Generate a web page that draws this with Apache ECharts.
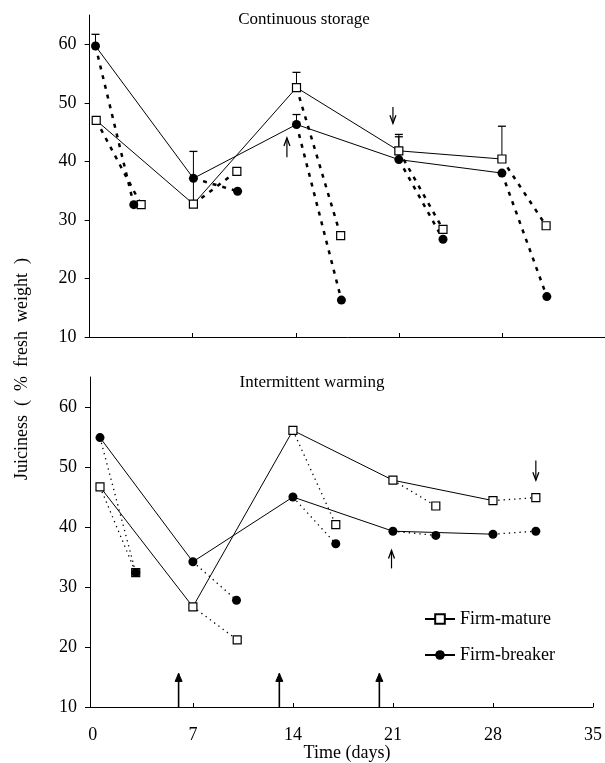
<!DOCTYPE html>
<html><head><meta charset="utf-8">
<script src="https://cdn.jsdelivr.net/npm/echarts@6/dist/echarts.min.js"></script>
<style>html,body{margin:0;padding:0;background:#fff}#c{width:605px;height:763px}</style>
</head><body><div id="c"></div>
<script>
const FONT = 'Liberation Serif';
const yTicks = [10, 20, 30, 40, 50, 60];
const xTicks = [0, 7, 14, 21, 28, 35];
const xInnerTicks = [7, 14, 21, 28, 35];
const titles = ['Continuous storage', 'Intermittent warming'];
const yName = 'Juiciness  (  %  fresh  weight  )';
const xName = 'Time (days)';
const seriesNames = ['Firm-mature', 'Firm-breaker'];

// Continuous storage
const topMature = [[0.45, 47.0], [7.05, 32.7], [14.05, 52.6], [21.0, 41.8], [28.0, 40.4]];
const topBreaker = [[0.4, 59.7], [7.05, 37.1], [14.05, 46.3], [21.0, 40.3], [28.0, 38.0]];
const topMatureEnd = [[3.5, 32.6], [10.0, 38.3], [17.05, 27.3], [24.0, 28.4], [31.0, 29.0]];
const topBreakerEnd = [[3.0, 32.6], [10.05, 34.9], [17.1, 16.3], [24.0, 26.7], [31.05, 16.9]];
const topErrors = [[0.4, 59.7, 61.7], [7.05, 32.7, 41.7], [14.05, 52.6, 55.2], [14.05, 46.3, 48.0],
                   [21.0, 41.8, 44.6], [21.0, 40.3, 44.2], [28.0, 40.4, 46.0]];
const topArrows = [[13.4, 40.7, 44.0], [20.6, 49.3, 46.5]];

// Intermittent warming
const botMature = [[0.5, 46.7], [7.0, 26.7], [14.0, 56.1], [21.0, 47.8], [28.0, 44.4]];
const botBreaker = [[0.5, 54.9], [7.0, 34.2], [14.0, 45.0], [21.0, 39.3], [28.0, 38.8]];
const botMatureEnd = [[3.0, 32.4], [10.1, 21.2], [17.0, 40.4], [24.0, 43.5], [31.0, 44.9]];
const botBreakerEnd = [[3.0, 32.4], [10.05, 27.8], [17.0, 37.2], [24.0, 38.6], [31.0, 39.3]];
const botWarmArrows = [[6.0, 10, 15.6], [13.05, 10, 15.6], [20.05, 10, 15.6]];
const botOpenArrows = [[20.9, 33.1, 36.1], [31.0, 51.1, 47.8]];

function segs(main, end) { return main.map((p, i) => [p[0], p[1], end[i][0], end[i][1]]); }

function segRender(style) {
  return function (params, api) {
    const a = api.coord([api.value(0), api.value(1)]);
    const b = api.coord([api.value(2), api.value(3)]);
    return { type: 'line', shape: { x1: a[0], y1: a[1], x2: b[0], y2: b[1] }, style: Object.assign({ stroke: '#000', fill: null }, style) };
  };
}
function errRender(params, api) {
  const x = api.value(0);
  const lo = api.coord([x, api.value(1)]), hi = api.coord([x, api.value(2)]);
  return { type: 'group', children: [
    { type: 'line', shape: { x1: lo[0], y1: lo[1], x2: hi[0], y2: hi[1] }, style: { stroke: '#000', lineWidth: 1 } },
    { type: 'line', shape: { x1: hi[0] - 4, y1: hi[1], x2: hi[0] + 4, y2: hi[1] }, style: { stroke: '#000', lineWidth: 1.3 } }
  ] };
}
function arrowRender(filled) {
  return function (params, api) {
    const x = api.value(0);
    const t = api.coord([x, api.value(1)]), h = api.coord([x, api.value(2)]);
    const dir = h[1] < t[1] ? -1 : 1;
    const hl = 8, hw = filled ? 3.5 : 3;
    const head = filled
      ? { type: 'polygon', shape: { points: [[h[0] - hw, h[1] - dir * hl], [h[0], h[1]], [h[0] + hw, h[1] - dir * hl]] }, style: { fill: '#000', stroke: '#000', lineWidth: 1 } }
      : { type: 'polyline', shape: { points: [[h[0] - hw, h[1] - dir * hl], [h[0], h[1]], [h[0] + hw, h[1] - dir * hl]] }, style: { fill: null, stroke: '#000', lineWidth: 1.3 } };
    return { type: 'group', children: [
      { type: 'line', shape: { x1: t[0], y1: t[1], x2: h[0], y2: h[1] }, style: { stroke: '#000', lineWidth: filled ? 1.6 : 1.2 } },
      head
    ] };
  };
}

const sqStyle = { color: '#fff', borderColor: '#000', borderWidth: 1.2, opacity: 1 };
const ciStyle = { color: '#000', borderColor: '#000', borderWidth: 0, opacity: 1 };

function panelSeries(i, mature, breaker, mEnd, bEnd, segStyle) {
  const ax = { xAxisIndex: i, yAxisIndex: i };
  return [
    Object.assign({ type: 'custom', name: 'm-transfer', renderItem: segRender(segStyle), data: segs(mature, mEnd), encode: { x: [0, 2], y: [1, 3] }, z: 1, silent: true }, ax),
    Object.assign({ type: 'custom', name: 'b-transfer', renderItem: segRender(segStyle), data: segs(breaker, bEnd), encode: { x: [0, 2], y: [1, 3] }, z: 1, silent: true }, ax),
    Object.assign({ type: 'line', name: seriesNames[0], data: mature, symbol: 'rect', symbolSize: 8, itemStyle: sqStyle, lineStyle: { color: '#000', width: 1 }, z: 3 }, ax),
    Object.assign({ type: 'line', name: seriesNames[1], data: breaker, symbol: 'circle', symbolSize: 9, itemStyle: ciStyle, lineStyle: { color: '#000', width: 1 }, z: 3 }, ax),
    Object.assign({ type: 'scatter', name: 'm-end', data: mEnd, symbol: 'rect', symbolSize: 8, itemStyle: sqStyle, z: 4 }, ax),
    Object.assign({ type: 'scatter', name: 'b-end', data: bEnd, symbol: 'circle', symbolSize: 9, itemStyle: ciStyle, z: 5 }, ax)
  ];
}

const yAxisBase = {
  type: 'value', min: 10, max: 65,
  axisLine: { show: true, onZero: false, lineStyle: { color: '#000', width: 1 } },
  axisTick: { show: true, length: 5, customValues: yTicks, lineStyle: { color: '#000' } },
  axisLabel: { customValues: yTicks, margin: 13, color: '#000', fontFamily: FONT, fontSize: 18 },
  splitLine: { show: false }
};

const chart = echarts.init(document.getElementById('c'));
chart.setOption({
  animation: false,
  backgroundColor: '#fff',
  grid: [
    { left: 89.6, top: 15, width: 518, height: 322 },
    { left: 90, top: 377, width: 506.3, height: 330 }
  ],
  xAxis: [
    { type: 'value', gridIndex: 0, min: 0, max: 35,
      axisLine: { onZero: false, lineStyle: { color: '#000', width: 1 } },
      axisTick: { show: true, inside: true, length: 4, customValues: xInnerTicks, lineStyle: { color: '#000' } },
      axisLabel: { show: false }, splitLine: { show: false } },
    { type: 'value', gridIndex: 1, min: -0.2, max: 35,
      axisLine: { onZero: false, lineStyle: { color: '#000', width: 1 } },
      axisTick: { show: true, inside: true, length: 4, customValues: xInnerTicks, lineStyle: { color: '#000' } },
      axisLabel: { customValues: xTicks, margin: 19, color: '#000', fontFamily: FONT, fontSize: 18 },
      splitLine: { show: false } }
  ],
  yAxis: [
    Object.assign({ gridIndex: 0 }, yAxisBase),
    Object.assign({ gridIndex: 1 }, yAxisBase)
  ],
  legend: {
    data: seriesNames, orient: 'vertical', left: 419, top: 605,
    itemWidth: 30, itemHeight: 12, itemGap: 18,
    textStyle: { fontFamily: FONT, fontSize: 18, color: '#000' }
  },
  graphic: [
    { type: 'text', x: 304, y: 20, style: { text: titles[0], font: '17px "Liberation Serif"', fill: '#000', align: 'center', verticalAlign: 'middle', textAlign: 'center', textVerticalAlign: 'middle' } },
    { type: 'text', x: 312, y: 383, style: { text: titles[1], font: '17px "Liberation Serif"', fill: '#000', align: 'center', verticalAlign: 'middle', textAlign: 'center', textVerticalAlign: 'middle' } },
    { type: 'text', x: 347, y: 753, style: { text: xName, font: '18px "Liberation Serif"', fill: '#000', align: 'center', verticalAlign: 'middle', textAlign: 'center', textVerticalAlign: 'middle' } },
    { type: 'text', x: 22, y: 369, rotation: Math.PI / 2, style: { text: yName, font: '18px "Liberation Serif"', fill: '#000', align: 'center', verticalAlign: 'middle', textAlign: 'center', textVerticalAlign: 'middle' } }
  ],
  series: [].concat(
    panelSeries(0, topMature, topBreaker, topMatureEnd, topBreakerEnd, { lineWidth: 2.5, lineDash: [4, 6] }),
    panelSeries(1, botMature, botBreaker, botMatureEnd, botBreakerEnd, { lineWidth: 1.3, lineDash: [1.3, 4] }),
    [
      { type: 'custom', name: 'err', xAxisIndex: 0, yAxisIndex: 0, renderItem: errRender, data: topErrors, encode: { x: 0, y: [1, 2] }, z: 2, silent: true },
      { type: 'custom', name: 'arrTop', xAxisIndex: 0, yAxisIndex: 0, renderItem: arrowRender(false), data: topArrows, encode: { x: 0, y: [1, 2] }, z: 2, silent: true },
      { type: 'custom', name: 'arrWarm', xAxisIndex: 1, yAxisIndex: 1, renderItem: arrowRender(true), data: botWarmArrows, encode: { x: 0, y: [1, 2] }, z: 2, silent: true },
      { type: 'custom', name: 'arrBot', xAxisIndex: 1, yAxisIndex: 1, renderItem: arrowRender(false), data: botOpenArrows, encode: { x: 0, y: [1, 2] }, z: 2, silent: true }
    ]
  )
});
</script>
</body></html>
